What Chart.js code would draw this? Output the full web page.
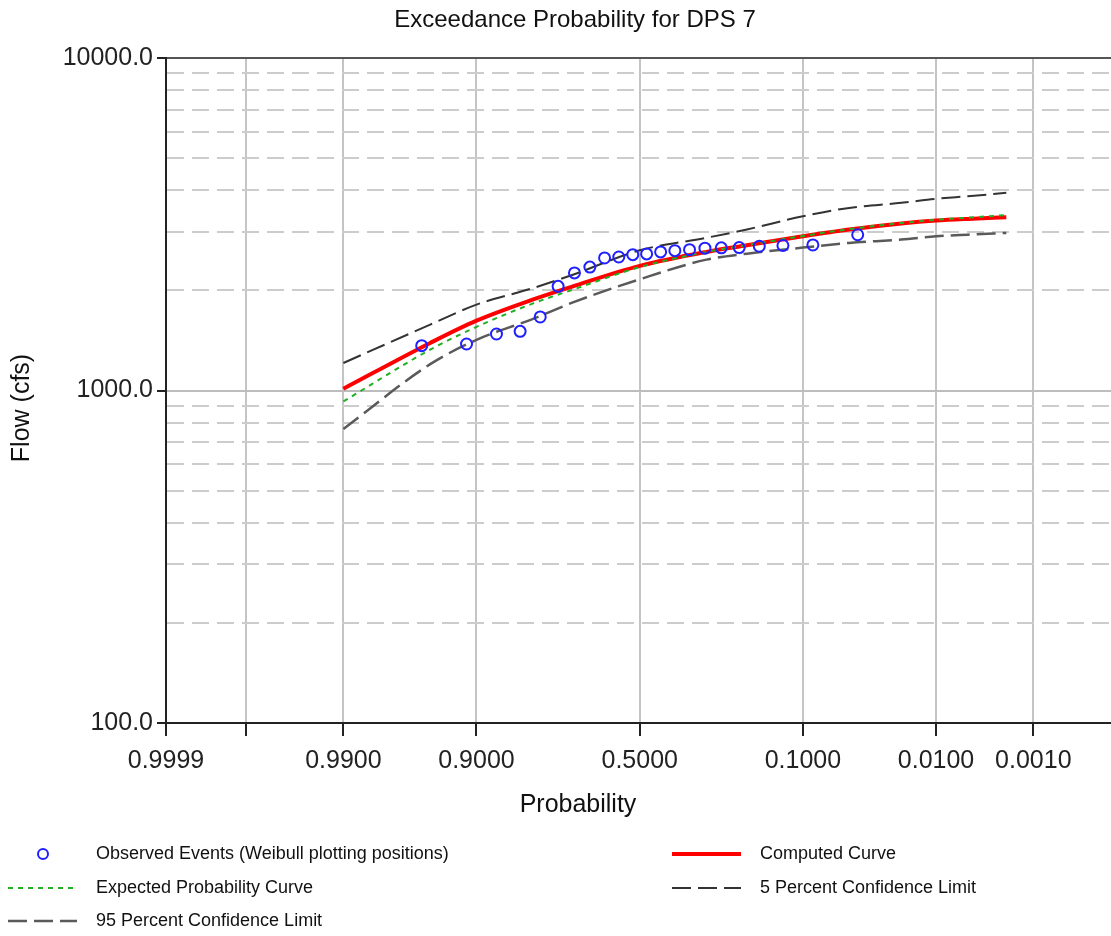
<!DOCTYPE html>
<html>
<head>
<meta charset="utf-8">
<title>Exceedance Probability for DPS 7</title>
<script src="https://cdn.jsdelivr.net/npm/chart.js@4.4.1/dist/chart.umd.min.js"></script>
<style>
    html, body { margin: 0; padding: 0; background: #fff; }
    #wrap { width: 1111px; height: 936px; position: relative; }
</style>
</head>
<body>
<div id="wrap"><canvas id="freqChart"></canvas></div>
<script>
const chartTitle = 'Exceedance Probability for DPS 7';
const xTitle = 'Probability';
const yTitle = 'Flow (cfs)';

// exceedance probabilities of the frequency curve ordinates
const curveProbs = [0.99, 0.95, 0.9, 0.8, 0.7, 0.5, 0.3, 0.2, 0.1, 0.05, 0.02, 0.01, 0.005, 0.002];
const computedFlow = [1012, 1390, 1622, 1876, 2057, 2370, 2611, 2733, 2909, 3048, 3177, 3243, 3282, 3319];
const expectedFlow = [927, 1327, 1553, 1825, 2011, 2350, 2611, 2735, 2915, 3058, 3190, 3262, 3310, 3370];
const upperFlow = [1210, 1578, 1813, 2030, 2230, 2640, 2880, 3050, 3342, 3541, 3667, 3770, 3839, 3930];
const lowerFlow = [766, 1200, 1420, 1640, 1840, 2160, 2475, 2580, 2690, 2779, 2843, 2909, 2943, 2978];

// observed annual peaks, Weibull plotting positions
const obsProbs = [0.0435, 0.0870, 0.1304, 0.1739, 0.2174, 0.2609, 0.3043, 0.3478, 0.3913, 0.4348, 0.4783,
                  0.5217, 0.5652, 0.6087, 0.6522, 0.6957, 0.7391, 0.7826, 0.8261, 0.8696, 0.9130, 0.9565];
const obsFlow = [2940, 2740, 2730, 2715, 2690, 2686, 2680, 2652, 2634, 2611, 2575,
                 2562, 2521, 2504, 2350, 2258, 2057, 1664, 1506, 1479, 1380, 1364];

// axis ticks
const xTickProbs = [0.9999, 0.999, 0.99, 0.9, 0.5, 0.1, 0.01, 0.001];
const xTickLabels = ['0.9999', '', '0.9900', '0.9000', '0.5000', '0.1000', '0.0100', '0.0010'];
const yTickValues = [100, 200, 300, 400, 500, 600, 700, 800, 900,
                     1000, 2000, 3000, 4000, 5000, 6000, 7000, 8000, 9000, 10000];
const yLabelValues = [100, 1000, 10000];

const FONT = '"Liberation Sans", Arial, sans-serif';

// inverse standard normal cdf (Acklam)
function normInv(p) {
    const a = [-3.969683028665376e+01, 2.209460984245205e+02, -2.759285104469687e+02, 1.383577518672690e+02, -3.066479806614716e+01, 2.506628277459239e+00];
    const b = [-5.447609879822406e+01, 1.615858368580409e+02, -1.556989798598866e+02, 6.680131188771972e+01, -1.328068155288572e+01];
    const c = [-7.784894002430293e-03, -3.223964580411365e-01, -2.400758277161838e+00, -2.549732539343734e+00, 4.374664141464968e+00, 2.938163982698783e+00];
    const d = [7.784695709041462e-03, 3.224671290700398e-01, 2.445134137142996e+00, 3.754408661907416e+00];
    const pLow = 0.02425;
    let q, r;
    if (p < pLow) {
        q = Math.sqrt(-2 * Math.log(p));
        return (((((c[0]*q+c[1])*q+c[2])*q+c[3])*q+c[4])*q+c[5]) / ((((d[0]*q+d[1])*q+d[2])*q+d[3])*q+1);
    } else if (p <= 1 - pLow) {
        q = p - 0.5;
        r = q * q;
        return (((((a[0]*r+a[1])*r+a[2])*r+a[3])*r+a[4])*r+a[5])*q / (((((b[0]*r+b[1])*r+b[2])*r+b[3])*r+b[4])*r+1);
    }
    q = Math.sqrt(-2 * Math.log(1 - p));
    return -(((((c[0]*q+c[1])*q+c[2])*q+c[3])*q+c[4])*q+c[5]) / ((((d[0]*q+d[1])*q+d[2])*q+d[3])*q+1);
}

// exceedance probability -> normal variate, frequent on the left
const zOf = p => normInv(1 - p);
const toPoints = (probs, flows) => probs.map((p, i) => ({ x: zOf(p), y: flows[i] }));
const isDecade = v => yLabelValues.includes(v);

// title, axis titles and the two-column legend under the plot
const decorations = {
    id: 'decorations',
    afterDraw(chart) {
        const ctx = chart.ctx;
        ctx.save();
        ctx.fillStyle = '#111';
        ctx.textBaseline = 'middle';
        ctx.textAlign = 'center';
        ctx.font = '24px ' + FONT;
        ctx.fillText(chartTitle, 575, 20);
        ctx.font = '25px ' + FONT;
        ctx.fillText(xTitle, 578, 805);
        ctx.save();
        ctx.translate(22, 408);
        ctx.rotate(-Math.PI / 2);
        ctx.fillText(yTitle, 0, 0);
        ctx.restore();

        const colX = [8, 672];
        const rowY = [854, 888, 921];
        ctx.font = '18px ' + FONT;
        ctx.textAlign = 'left';
        chart.data.datasets.forEach((ds, i) => {
            const x = colX[i % 2];
            const y = rowY[Math.floor(i / 2)];
            if (ds.showLine === false) {
                ctx.beginPath();
                ctx.setLineDash([]);
                ctx.lineWidth = ds.pointBorderWidth;
                ctx.strokeStyle = ds.pointBorderColor;
                ctx.arc(x + 35, y, ds.pointRadius - 0.5, 0, Math.PI * 2);
                ctx.stroke();
            } else {
                ctx.beginPath();
                ctx.setLineDash(ds.borderDash || []);
                ctx.lineWidth = ds.borderWidth;
                ctx.strokeStyle = ds.borderColor;
                ctx.moveTo(x, y);
                ctx.lineTo(x + 69, y);
                ctx.stroke();
            }
            ctx.fillStyle = '#111';
            ctx.fillText(ds.label, x + 88, y);
        });
        ctx.restore();
    }
};

new Chart(document.getElementById('freqChart').getContext('2d'), {
    type: 'line',
    data: {
        datasets: [{
            label: 'Observed Events (Weibull plotting positions)',
            data: toPoints(obsProbs, obsFlow),
            showLine: false,
            pointStyle: 'circle',
            pointRadius: 5.5,
            pointBorderWidth: 2,
            pointBorderColor: '#1f1fff',
            pointBackgroundColor: 'rgba(0,0,0,0)',
            order: 0
        }, {
            label: 'Computed Curve',
            data: toPoints(curveProbs, computedFlow),
            borderColor: '#ff0000',
            borderWidth: 4,
            pointRadius: 0,
            cubicInterpolationMode: 'monotone',
            order: 2
        }, {
            label: 'Expected Probability Curve',
            data: toPoints(curveProbs, expectedFlow),
            borderColor: '#22b022',
            borderWidth: 2,
            borderDash: [5, 5],
            pointRadius: 0,
            cubicInterpolationMode: 'monotone',
            order: 1
        }, {
            label: '5 Percent Confidence Limit',
            data: toPoints(curveProbs, upperFlow),
            borderColor: '#333333',
            borderWidth: 2,
            borderDash: [19, 7],
            pointRadius: 0,
            cubicInterpolationMode: 'monotone',
            order: 3
        }, {
            label: '95 Percent Confidence Limit',
            data: toPoints(curveProbs, lowerFlow),
            borderColor: '#5a5a5a',
            borderWidth: 2.5,
            borderDash: [19, 7],
            pointRadius: 0,
            cubicInterpolationMode: 'monotone',
            order: 4
        }]
    },
    options: {
        responsive: true,
        maintainAspectRatio: false,
        animation: false,
        layout: { autoPadding: false, padding: { top: 58, left: 0, right: 0, bottom: 0 } },
        plugins: {
            legend: { display: false },
            title: { display: false },
            tooltip: { enabled: false }
        },
        scales: {
            x: {
                type: 'linear',
                min: zOf(xTickProbs[0]),
                max: 3.70,
                afterFit: s => {
                    s.height = 213;
                    s.paddingLeft = 0;
                    s.paddingRight = 0;
                },
                afterBuildTicks: s => { s.ticks = xTickProbs.map(p => ({ value: zOf(p) })); },
                ticks: {
                    autoSkip: false,
                    maxRotation: 0,
                    padding: 10,
                    color: '#222',
                    font: { family: FONT, size: 25 },
                    callback: (v, i) => xTickLabels[i]
                },
                grid: { color: '#c4c4c4', lineWidth: 2, tickLength: 13, tickColor: '#222', tickWidth: 2 },
                border: { color: '#222', width: 2 }
            },
            y: {
                type: 'logarithmic',
                min: 100,
                max: 10000,
                afterFit: s => { s.width = 166; },
                afterBuildTicks: s => { s.ticks = yTickValues.map(v => ({ value: v, major: isDecade(v) })); },
                ticks: {
                    autoSkip: false,
                    padding: 4,
                    color: '#222',
                    font: { family: FONT, size: 25 },
                    callback: v => isDecade(v) ? v.toFixed(1) : ''
                },
                grid: {
                    lineWidth: 2,
                    color: c => c.tick && c.tick.value === 10000 ? '#555555' : (c.tick && isDecade(c.tick.value) ? '#bdbdbd' : '#cccccc'),
                    tickLength: 9,
                    tickWidth: 2,
                    tickColor: c => c.tick && isDecade(c.tick.value) ? '#222' : 'rgba(0,0,0,0)'
                },
                border: {
                    color: '#222',
                    width: 2,
                    dash: c => (c.tick && !isDecade(c.tick.value)) ? [17, 8] : []
                }
            }
        }
    },
    plugins: [decorations]
});
</script>
</body>
</html>
